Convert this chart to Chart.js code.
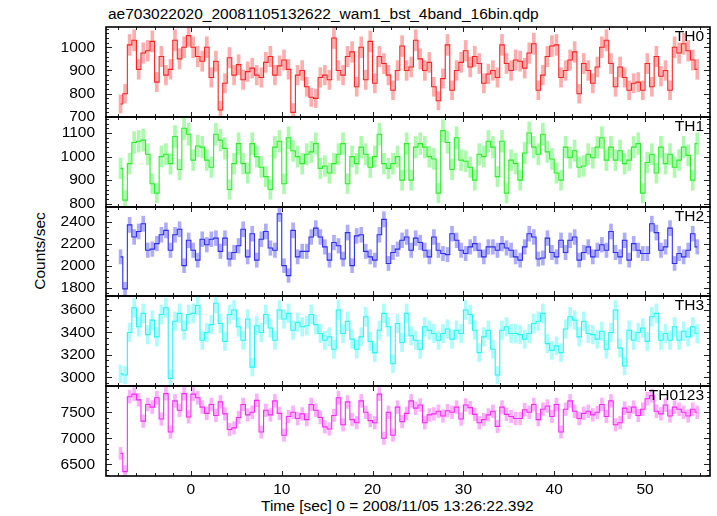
<!DOCTYPE html>
<html>
<head>
<meta charset="utf-8">
<script src="https://cdn.jsdelivr.net/npm/chart.js@4"></script>
<style>
body { margin: 0; background: #fff; }
#wrap { position: relative; width: 717px; height: 516px; overflow: hidden; background: #fff;
        font-family: 'Liberation Sans', Arial, sans-serif; color: #000; }
#wrap canvas { position: absolute; left: 0; }
.txt { position: absolute; font-size: 15.5px; line-height: 18px; white-space: nowrap; }
</style>
</head>
<body>
<div id="wrap">
  <div class="txt" style="left:108px;top:5px">ae703022020_20081105132622_wam1_bst_4band_16bin.qdp</div>
  <div class="txt" style="left:40px;top:251px;transform:translate(-50%,-50%) rotate(-90deg)">Counts/sec</div>
  <div class="txt" style="left:261px;top:497px">Time [sec] 0 = 2008/11/05 13:26:22.392</div>
</div>
<script>
// time grid: 16 x 1/32 s bins = 0.5 s, first bin centre
const T0 = -7.75
const BIN = 0.5
const X_MIN = -9.35
const X_MAX = 57.15
const X_TICKS = [0, 10, 20, 30, 40, 50]

const names = ['TH0', 'TH1', 'TH2', 'TH3', 'TH0123']

const th0 = [
    756, 800, 1010, 1030, 905, 975, 985, 1025, 850, 960,
    880, 905, 1030, 950, 1000, 1050, 1000, 960, 940, 1000,
    870, 940, 730, 845, 955, 880, 925, 860, 895, 910,
    880, 870, 935, 960, 880, 920, 945, 905, 720, 880,
    900, 830, 785, 780, 870, 880, 860, 1040, 900, 880,
    960, 980, 830, 1000, 860, 1025, 845, 960, 930, 880,
    815, 900, 1005, 900, 915, 1030, 950, 900, 935, 830,
    770, 865, 1010, 815, 900, 935, 985, 915, 960, 930,
    845, 885, 900, 870, 1010, 930, 900, 945, 940, 910,
    975, 1015, 815, 880, 960, 1005, 1010, 870, 900, 945,
    980, 800, 930, 900, 845, 915, 1000, 1030, 930, 830,
    915, 870, 815, 845, 850, 815, 930, 830, 960, 875,
    900, 815, 1000, 975, 1015, 985, 945, 905,
]
const th1 = [
    950, 815, 970, 1060, 1065, 1070, 1010, 885, 845, 1000,
    1010, 970, 1085, 945, 1120, 1095, 985, 1045, 1040, 985,
    955, 1095, 1070, 1035, 860, 970, 1055, 970, 930, 1055,
    1000, 955, 915, 860, 1040, 1065, 885, 1080, 1025, 1000,
    970, 1010, 1020, 1055, 950, 960, 930, 970, 1010, 1055,
    885, 1000, 970, 1040, 1010, 955, 1000, 1095, 970, 950,
    970, 1000, 900, 1055, 900, 1040, 1055, 1040, 1000, 990,
    845, 1110, 1060, 945, 1080, 985, 980, 955, 900, 1010,
    1000, 1065, 1040, 915, 1065, 845, 985, 970, 900, 1015,
    1100, 1040, 1010, 1095, 1020, 990, 930, 900, 1040, 995,
    1025, 955, 960, 1010, 995, 1040, 1080, 985, 1040, 985,
    1025, 970, 985, 1040, 1055, 845, 975, 1010, 930, 1040,
    970, 1010, 955, 985, 1040, 1005, 900, 1055,
]
const th2 = [
    2080, 1790, 2370, 2260, 2310, 2380, 2140, 2150, 2200, 2280,
    2320, 2140, 2280, 2330, 2000, 2230, 2140, 2050, 2240, 2190,
    2240, 2250, 2130, 2250, 2060, 2120, 2180, 2330, 2080, 2290,
    2050, 2240, 2310, 2160, 2140, 2470, 2000, 1910, 2320, 2080,
    2130, 2130, 2260, 2340, 2260, 2170, 2050, 2210, 2180, 2060,
    2300, 2000, 2270, 2280, 2130, 2080, 2050, 2280, 2420, 2020,
    2120, 2150, 2230, 2260, 2140, 2250, 2210, 2140, 2080, 2260,
    2140, 2110, 2100, 2290, 2230, 2140, 2110, 2170, 2200, 2140,
    2080, 2170, 2170, 2140, 2200, 2160, 2140, 2080, 2050, 2170,
    2290, 2260, 2060, 2070, 2250, 2120, 2080, 2230, 2120, 2230,
    2260, 2050, 2120, 2170, 2080, 2140, 2190, 2140, 2310, 2120,
    2080, 2230, 2050, 2200, 2140, 2110, 2110, 2380, 2300, 2140,
    2170, 2340, 2020, 2110, 2080, 2140, 2290, 2170,
]
const th3 = [
    3030, 3020, 3400, 3620, 3450, 3570, 3380, 3510, 3360, 3560,
    3620, 2990, 3500, 3570, 3420, 3560, 3570, 3640, 3330, 3400,
    3470, 3660, 3480, 3320, 3560, 3600, 3450, 3330, 3520, 3090,
    3460, 3400, 3560, 3440, 3330, 3600, 3520, 3570, 3420, 3490,
    3450, 3460, 3560, 3470, 3390, 3330, 3360, 3250, 3600, 3390,
    3500, 3340, 3250, 3360, 3540, 3320, 3220, 3420, 3570, 3450,
    3120, 3480, 3310, 3570, 3370, 3330, 3250, 3450, 3420, 3390,
    3330, 3390, 3430, 3340, 3420, 3390, 3600, 3560, 3420, 3220,
    3360, 3420, 3250, 3020, 3420, 3450, 3390, 3390, 3380, 3340,
    3390, 3480, 3500, 3570, 3300, 3240, 3280, 3220, 3430, 3540,
    3510, 3360, 3500, 3390, 3380, 3340, 3410, 3250, 3400, 3600,
    3260, 3100, 3420, 3330, 3400, 3440, 3320, 3540, 3570, 3330,
    3390, 3330, 3450, 3330, 3410, 3360, 3450, 3390,
]
const th0123 = [
    6710, 6360, 7800, 7850, 7740, 7330, 7650, 7600, 7780, 7370,
    7860, 7120, 7720, 7540, 7860, 7410, 7850, 7780, 7600, 7480,
    7650, 7440, 7700, 7470, 7170, 7200, 7400, 7650, 7450, 7500,
    7730, 7120, 7540, 7450, 7720, 7480, 7060, 7420, 7500, 7380,
    7470, 7360, 7650, 7540, 7400, 7220, 7180, 7440, 7780, 7260,
    7700, 7360, 7300, 7720, 7500, 7340, 7300, 7850, 7000, 7500,
    7060, 7600, 7320, 7480, 7720, 7580, 7640, 7300, 7450, 7470,
    7520, 7430, 7530, 7500, 7600, 7370, 7640, 7590, 7460, 7300,
    7360, 7450, 7520, 7230, 7600, 7460, 7420, 7380, 7380, 7550,
    7500, 7650, 7360, 7560, 7620, 7420, 7650, 7120, 7560, 7720,
    7520, 7380, 7480, 7520, 7450, 7500, 7650, 7420, 7720, 7260,
    7300, 7580, 7500, 7600, 7440, 7560, 7760, 7820, 7520, 7470,
    7640, 7430, 7600, 7560, 7500, 7430, 7560, 7500,
]

const series = [th0, th1, th2, th3, th0123]
const yMin = [700, 786, 1725, 2922, 6275]
const yMax = [1087, 1168, 2532, 3725, 8006]
const yTicks = [
    [700, 800, 900, 1000],
    [800, 900, 1000, 1100],
    [1800, 2000, 2200, 2400],
    [3000, 3200, 3400, 3600],
    [6500, 7000, 7500],
]
const yMinor = [20, 20, 50, 50, 100]

const lineColors = ['rgb(255,35,35)', 'rgb(40,240,40)', 'rgb(45,45,245)', 'rgb(40,245,245)', 'rgb(250,40,250)']
const barColors = ['rgba(255,60,60,0.42)', 'rgba(60,240,60,0.42)', 'rgba(60,60,245,0.42)', 'rgba(60,245,245,0.42)', 'rgba(250,70,250,0.42)']

const EDGES = [27, 117, 207, 296, 386, 476]
const PAD = 12
const AXIS_H = 40
const FONT = "'Liberation Sans', Arial, sans-serif"

Chart.defaults.font.family = FONT

function panelDecor(k) {
    return {
        id: 'panelDecor',
        afterDatasetsDraw(chart) {
            const ctx = chart.ctx
            const a = chart.chartArea
            const sx = chart.scales.x
            const sy = chart.scales.y
            ctx.save()
            ctx.strokeStyle = '#222'
            ctx.lineWidth = 1
            ctx.beginPath()
            for (let t = -8; t <= 56; t += 2) {
                const px = Math.round(sx.getPixelForValue(t)) + 0.5
                const len = t % 10 === 0 ? 5 : 3
                ctx.moveTo(px, a.top)
                ctx.lineTo(px, a.top + len)
                ctx.moveTo(px, a.bottom)
                ctx.lineTo(px, a.bottom - len)
            }
            const major = yTicks[k][1] - yTicks[k][0]
            const step = yMinor[k]
            for (let v = Math.ceil(yMin[k] / step) * step; v <= yMax[k]; v += step) {
                const py = Math.round(sy.getPixelForValue(v)) + 0.5
                const len = v % major === 0 ? 6 : 3
                ctx.moveTo(a.left, py)
                ctx.lineTo(a.left + len, py)
                ctx.moveTo(a.right, py)
                ctx.lineTo(a.right - len, py)
            }
            ctx.stroke()
            ctx.strokeStyle = '#000'
            ctx.lineWidth = 1.6
            ctx.strokeRect(a.left, a.top, a.right - a.left, a.bottom - a.top)
            ctx.fillStyle = '#000'
            ctx.font = '15.5px ' + FONT
            ctx.textAlign = 'right'
            ctx.textBaseline = 'middle'
            ctx.fillText(names[k], a.right - 6, a.top + 10)
            ctx.restore()
        },
    }
}

const wrap = document.getElementById('wrap')

series.forEach((values, k) => {
    const last = k === series.length - 1
    const h = EDGES[k + 1] - EDGES[k]
    const canvas = document.createElement('canvas')
    canvas.width = 717
    canvas.height = h + PAD + (last ? AXIS_H : PAD)
    canvas.style.top = EDGES[k] - PAD + 'px'
    canvas.style.width = '717px'
    canvas.style.height = canvas.height + 'px'
    wrap.appendChild(canvas)

    const points = values.map((v, i) => ({ x: T0 + BIN * i, y: v }))
    // poisson error of a 0.5 s bin
    const errs = values.map((v, i) => {
        const e = Math.sqrt(v * BIN) / BIN
        return { x: T0 + BIN * i, y: [v - e, v + e] }
    })

    new Chart(canvas, {
        type: 'line',
        data: {
            datasets: [
                {
                    type: 'line',
                    data: points,
                    stepped: 'middle',
                    borderColor: lineColors[k],
                    borderWidth: 1.1,
                    pointRadius: 0,
                    fill: false,
                },
                {
                    type: 'bar',
                    data: errs,
                    backgroundColor: barColors[k],
                    borderWidth: 0,
                    barThickness: 3,
                },
            ],
        },
        options: {
            responsive: false,
            animation: false,
            events: [],
            layout: { padding: { top: PAD, bottom: last ? 0 : PAD, left: 0, right: 7 } },
            plugins: {
                legend: { display: false },
                tooltip: { enabled: false },
                title: { display: false },
            },
            scales: {
                x: {
                    type: 'linear',
                    min: X_MIN,
                    max: X_MAX,
                    offset: false,
                    display: last,
                    grid: { display: false, drawTicks: false },
                    border: { display: false },
                    afterBuildTicks: (s) => {
                        s.ticks = X_TICKS.map((v) => ({ value: v }))
                    },
                    afterFit: (s) => {
                        if (last) s.height = AXIS_H
                        s.paddingLeft = 0
                        s.paddingRight = 0
                    },
                    ticks: {
                        color: '#000',
                        font: { size: 15.5 },
                        padding: 4,
                        maxRotation: 0,
                        autoSkip: false,
                        callback: (v) => String(v),
                    },
                },
                y: {
                    type: 'linear',
                    min: yMin[k],
                    max: yMax[k],
                    grid: { display: false, drawTicks: false },
                    border: { display: false },
                    afterBuildTicks: (s) => {
                        s.ticks = yTicks[k].map((v) => ({ value: v }))
                    },
                    afterFit: (s) => {
                        s.width = 106
                        s.paddingTop = 0
                        s.paddingBottom = 0
                    },
                    ticks: {
                        color: '#000',
                        font: { size: 15.5 },
                        padding: 11,
                        autoSkip: false,
                        callback: (v) => String(v),
                    },
                },
            },
        },
        plugins: [panelDecor(k)],
    })
})
</script>
</body>
</html>
